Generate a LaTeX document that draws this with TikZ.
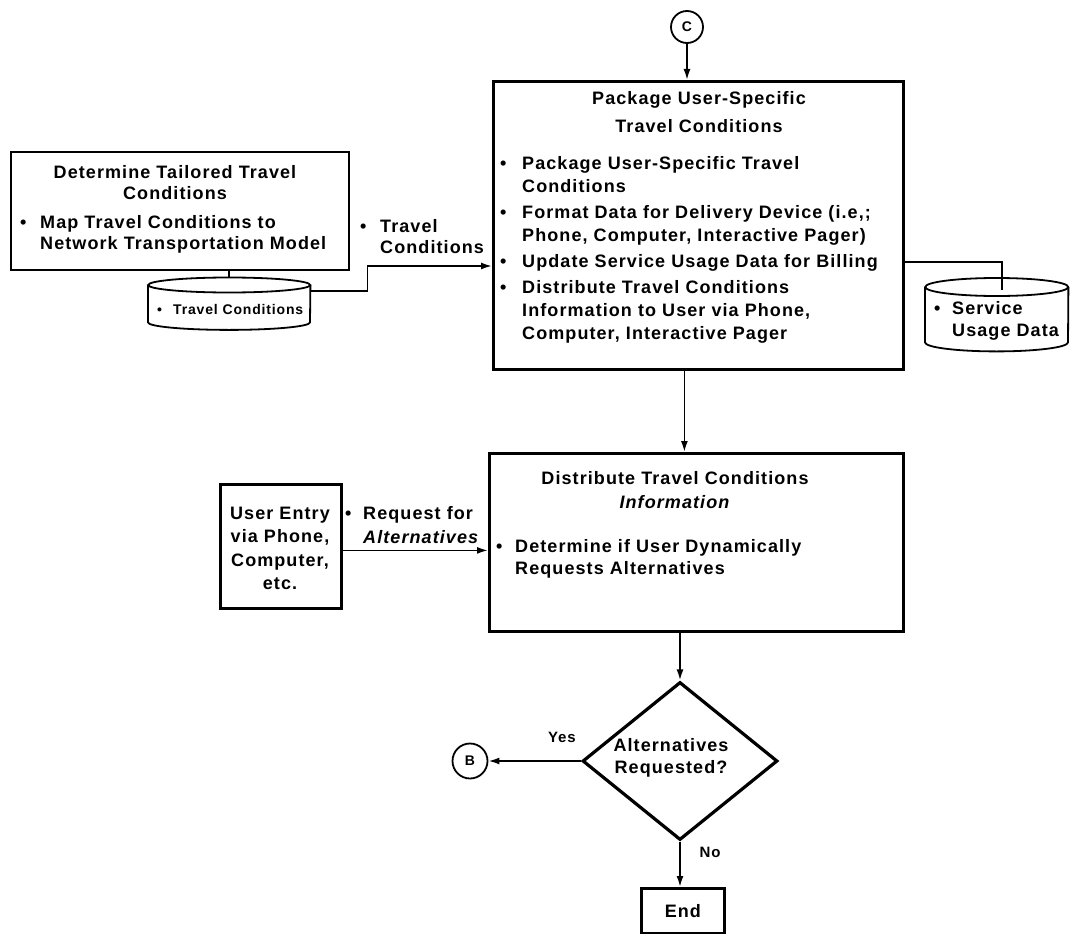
\documentclass[tikz,border=0pt]{standalone}
\usepackage{fontspec}
\setmainfont[LetterSpace=6]{Liberation Sans}
\usetikzlibrary{shapes.geometric,arrows.meta,calc}
\newcommand\fntmain{\fontsize{18}{23}\selectfont\bfseries}
\newcommand\fntsmall{\fontsize{14}{14}\selectfont\bfseries}
\newcommand\fntyn{\fontsize{15}{15}\selectfont\bfseries}
\begin{document}
\begin{tikzpicture}[x=1pt,y=-1pt,
  box/.style={draw, line width=2.8pt, inner sep=0pt, anchor=north west},
  thinbox/.style={draw, line width=2pt, inner sep=0pt, anchor=north west},
  txt/.style={inner sep=0pt, font=\fntmain},
  conn/.style={line width=1.8pt},
  arr/.style={conn, -{Latex[length=11pt,width=7pt]}},
  circ/.style={draw, circle, line width=1.8pt, minimum size=32pt, inner sep=0pt, font=\fntsmall},
  holder/.style={inner sep=0pt, anchor=north west}
]
\fill[white] (0,0) rectangle (1071,934);
\useasboundingbox (0,0) rectangle (1071,934);

% connector C
\node[circ] (cc) at (687,27) {C};

% main box
\node[box, minimum width=410pt, minimum height=288pt] (pkg) at (492,80) {};
\node[txt, align=center, anchor=north, font=\fontsize{18}{28}\selectfont\bfseries] (pkgtitle) at (699,91.5) {Package User-Specific\\Travel Conditions};
\node[txt, align=left, anchor=north west] (pkglist) at (500,156.5) {%
\makebox[22pt][l]{\textbullet}Package User-Specific Travel\\
\hspace*{22pt}Conditions\\[3pt]
\makebox[22pt][l]{\textbullet}Format Data for Delivery Device (i.e,;\\
\hspace*{22pt}Phone, Computer, Interactive Pager)\\[3pt]
\makebox[22pt][l]{\textbullet}Update Service Usage Data for Billing\\[3pt]
\makebox[22pt][l]{\textbullet}Distribute Travel Conditions\\
\hspace*{22pt}Information to User via Phone,\\
\hspace*{22pt}Computer, Interactive Pager};

\draw[arr] (cc) -- (cc |- pkg.north);

% determine box
\node[thinbox, minimum width=338pt, minimum height=118pt] (det) at (10,151) {};
\node[txt, align=center, anchor=north, font=\fontsize{18}{21}\selectfont\bfseries] (dettitle) at (175,165.5) {Determine Tailored Travel\\Conditions};
\node[txt, align=left, anchor=north west, font=\fontsize{18}{21}\selectfont\bfseries] (detlist) at (20,215.5) {%
\makebox[20pt][l]{\textbullet}Map Travel Conditions to\\
\hspace*{20pt}Network Transportation Model};

% travel conditions store
\node[holder, minimum width=162pt, minimum height=37pt] (tcdb) at (148,285) {};
\draw[conn] (tcdb.north) ellipse[x radius=81pt, y radius=7.5pt];
\draw[conn] (tcdb.north west) -- (tcdb.south west) arc[start angle=180, end angle=360, x radius=81pt, y radius=7.5pt] -- (tcdb.north east);
\node[txt, font=\fntsmall, anchor=west] (tctext) at (157,309) {\makebox[16pt][l]{\textbullet}Travel Conditions};

\draw[conn] (det.south -| tcdb.north) -- ([yshift=7.5pt]tcdb.north);
\coordinate (tcin) at (pkg.west |- 0,266);
\draw[arr] ([yshift=-6pt]tcdb.north east) -- ++(57,0) |- (tcin);
\node[txt, align=left, anchor=north west, font=\fontsize{18}{21}\selectfont\bfseries] (tclabel) at (360,219.5) {%
\makebox[20pt][l]{\textbullet}Travel\\
\hspace*{20pt}Conditions};

% service usage store
\node[holder, minimum width=143pt, minimum height=55pt] (sud) at (925,287) {};
\draw[conn] (sud.north) ellipse[x radius=71.5pt, y radius=9pt];
\draw[conn] (sud.north west) -- (sud.south west) arc[start angle=180, end angle=360, x radius=71.5pt, y radius=9pt] -- (sud.north east);
\node[txt, align=left, anchor=north west, font=\fontsize{18}{22}\selectfont\bfseries] (sudtext) at (934,301.5) {%
\makebox[18pt][l]{\textbullet}Service\\
\hspace*{18pt}Usage Data};
\draw[conn] (pkg.east |- 0,262) -| ([xshift=5.5pt,yshift=-3pt]sud.north);

% distribute box
\node[box, minimum width=414pt, minimum height=178pt] (dist) at (488,452) {};
\node[txt, align=center, anchor=north, font=\fontsize{18}{24}\selectfont\bfseries] (disttitle) at (675,471.5) {Distribute Travel Conditions\\\textit{Information}};
\node[txt, align=left, anchor=north west, font=\fontsize{18}{22}\selectfont\bfseries] (distlist) at (496,539.5) {%
\makebox[19pt][l]{\textbullet}Determine if User Dynamically\\
\hspace*{19pt}Requests Alternatives};
\draw[arr] ([xshift=-14pt]pkg.south) -- ([xshift=-14pt]pkg.south |- dist.north);

% user entry
\node[box, minimum width=121pt, minimum height=124pt] (ue) at (219,483) {};
\node[txt, align=center, anchor=north, font=\fontsize{18}{23.5}\selectfont\bfseries] (uetext) at (280,506.5) {User Entry\\via Phone,\\Computer,\\etc.};
\node[txt, align=left, anchor=north west, font=\fontsize{18}{24}\selectfont\bfseries] (reqlabel) at (345,506.5) {%
\makebox[18pt][l]{\textbullet}Request for\\
\hspace*{18pt}\textit{Alternatives}};
\draw[arr] ([yshift=-4pt]ue.east) -- ([yshift=-4pt]ue.east -| dist.west);

% decision
\node[draw, diamond, line width=3.2pt, minimum width=195pt, minimum height=158pt, inner sep=0pt, aspect=1.234] (dia) at (680,761) {};
\node[txt, align=center, anchor=north, font=\fontsize{18}{22}\selectfont\bfseries] (diatext) at (671,738.5) {Alternatives\\Requested?};
\draw[arr] (dia.north |- dist.south) -- (dia.north);

\node[circ, minimum size=35pt] (bc) at (470,761) {B};
\draw[arr] (dia.west) -- (bc.east);
\node[txt, font=\fntyn] (yes) at (562,737) {Yes};
\node[txt, font=\fntyn] (no) at (710,852) {No};

\node[box, minimum width=83pt, minimum height=45pt] (endb) at (640,887) {};
\node[txt] (endt) at (endb.center) {End};
\draw[arr] (dia.south) -- (dia.south |- endb.north);
\end{tikzpicture}
\end{document}
